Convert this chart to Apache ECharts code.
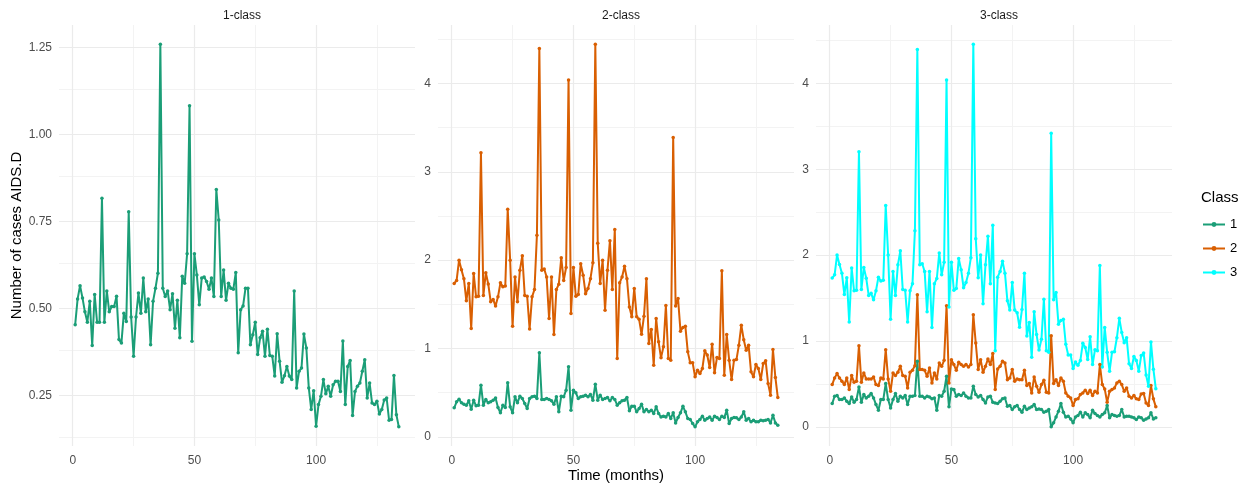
<!DOCTYPE html>
<html><head><meta charset="utf-8">
<script src="https://cdn.jsdelivr.net/npm/echarts@6/dist/echarts.min.js"></script>
<style>html,body{margin:0;padding:0;background:#fff}#c{width:1251px;height:486px}</style>
</head><body><div id="c"></div>
<script>
// ---- data ----
const months = [];
for (let i = 1; i <= 134; i++) months.push(i);

const panelTitles = ['1-class', '2-class', '3-class'];
const classNames = ['1', '2', '3'];
const xTitle = 'Time (months)';
const yTitle = 'Number of cases AIDS.D';
const xTicks = [0, 50, 100];
const xMinor = [25, 75, 125];
const yTicks1 = [0.25, 0.5, 0.75, 1.0, 1.25];
const yMinor1 = [0.125, 0.375, 0.625, 0.875, 1.125];
const yTicks23 = [0, 1, 2, 3, 4];
const yMinor23 = [0.5, 1.5, 2.5, 3.5, 4.5];

// 1-class model
const p1c1 = [0.453,0.527,0.565,0.53,0.49,0.46,0.52,0.393,0.54,0.46,
0.46,0.817,0.46,0.55,0.49,0.505,0.505,0.535,0.41,0.40,
0.486,0.462,0.778,0.475,0.362,0.475,0.544,0.486,0.587,0.49,
0.527,0.395,0.52,0.558,0.601,1.26,0.558,0.534,0.55,0.496,
0.542,0.443,0.523,0.415,0.592,0.572,0.657,1.083,0.405,0.657,
0.596,0.51,0.587,0.59,0.577,0.555,0.587,0.534,0.842,0.754,
0.534,0.61,0.523,0.572,0.558,0.555,0.603,0.372,0.496,0.507,
0.558,0.558,0.395,0.424,0.46,0.367,0.415,0.434,0.362,0.44,
0.364,0.362,0.305,0.427,0.348,0.287,0.306,0.333,0.305,0.295,
0.55,0.271,0.319,0.328,0.426,0.386,0.271,0.209,0.263,0.161,
0.223,0.247,0.295,0.254,0.276,0.247,0.28,0.29,0.29,0.261,
0.406,0.223,0.333,0.35,0.192,0.261,0.276,0.285,0.319,0.352,
0.242,0.285,0.228,0.223,0.233,0.196,0.209,0.236,0.242,0.178,
0.18,0.307,0.194,0.159];

// 2-class model
const p2c1 = [0.328,0.396,0.426,0.385,0.37,0.358,0.408,0.313,0.415,0.351,
0.358,0.585,0.358,0.423,0.385,0.396,0.415,0.44,0.332,0.272,
0.358,0.332,0.611,0.34,0.272,0.453,0.385,0.46,0.434,0.377,
0.32,0.434,0.453,0.46,0.434,0.951,0.423,0.423,0.434,0.423,
0.408,0.37,0.453,0.283,0.46,0.453,0.528,0.792,0.302,0.528,
0.498,0.434,0.453,0.46,0.472,0.453,0.479,0.415,0.596,0.415,
0.472,0.423,0.434,0.445,0.408,0.445,0.423,0.358,0.385,0.408,
0.415,0.445,0.294,0.347,0.347,0.283,0.32,0.37,0.283,0.309,
0.283,0.302,0.264,0.34,0.264,0.226,0.234,0.226,0.264,0.208,
0.272,0.158,0.219,0.272,0.347,0.283,0.208,0.196,0.151,0.113,
0.17,0.196,0.234,0.189,0.208,0.226,0.189,0.234,0.219,0.196,
0.234,0.219,0.302,0.151,0.208,0.219,0.215,0.196,0.226,0.283,
0.189,0.208,0.17,0.189,0.17,0.17,0.189,0.181,0.189,0.196,
0.158,0.245,0.158,0.132];

const p2c2 = [1.736,1.77,2.0,1.89,1.79,1.54,1.736,1.226,1.85,1.585,
1.59,3.215,1.60,1.857,1.73,1.53,1.555,1.48,1.585,1.743,
1.70,1.706,2.577,2.0,1.253,1.81,1.53,1.887,2.05,1.60,
1.59,1.222,1.585,1.668,2.283,4.396,1.887,1.90,1.81,1.34,
1.81,1.158,1.668,1.728,2.026,1.77,1.917,4.038,1.396,1.917,
1.59,1.61,1.96,1.83,1.62,1.68,1.79,1.97,4.445,2.19,
1.736,2.0,1.434,1.887,2.22,1.668,2.347,0.887,1.743,1.81,
1.93,1.79,1.47,1.36,1.68,1.36,1.33,1.16,1.366,1.79,
1.057,1.215,0.81,1.34,1.075,0.894,1.019,1.487,0.887,0.868,
3.389,1.48,1.566,1.196,1.238,1.253,0.962,0.838,0.838,0.68,
0.755,0.717,0.774,0.974,0.925,0.785,1.049,0.725,0.898,0.887,
1.879,0.698,1.158,0.868,0.649,0.868,0.875,1.038,1.264,1.10,
0.98,1.038,0.736,0.68,0.819,0.774,0.649,0.83,0.86,0.604,
0.472,0.989,0.672,0.445];

// 3-class model
const p3c1 = [0.271,0.357,0.364,0.318,0.318,0.337,0.298,0.271,0.349,0.287,
0.318,0.465,0.287,0.376,0.337,0.357,0.388,0.337,0.26,0.194,
0.318,0.318,0.504,0.318,0.221,0.318,0.388,0.298,0.357,0.337,
0.364,0.26,0.357,0.357,0.364,0.764,0.357,0.357,0.337,0.357,
0.349,0.326,0.337,0.194,0.364,0.357,0.415,0.589,0.233,0.442,
0.434,0.357,0.376,0.364,0.395,0.357,0.337,0.337,0.473,0.376,
0.349,0.364,0.318,0.279,0.349,0.357,0.287,0.279,0.271,0.298,
0.326,0.337,0.24,0.248,0.202,0.233,0.248,0.202,0.171,0.24,
0.202,0.221,0.233,0.26,0.202,0.209,0.202,0.171,0.182,0.202,
0.0,0.047,0.116,0.182,0.271,0.171,0.116,0.124,0.093,0.047,
0.116,0.132,0.171,0.116,0.163,0.143,0.105,0.194,0.155,0.132,
0.116,0.143,0.163,0.248,0.105,0.143,0.132,0.124,0.132,0.202,
0.116,0.124,0.124,0.116,0.105,0.085,0.116,0.105,0.078,0.093,
0.105,0.163,0.093,0.105];

const p3c2 = [0.492,0.57,0.62,0.57,0.531,0.492,0.57,0.434,0.597,0.519,
0.531,0.946,0.519,0.628,0.558,0.558,0.558,0.581,0.492,0.481,
0.57,0.558,0.899,0.558,0.415,0.628,0.597,0.636,0.705,0.597,
0.589,0.453,0.636,0.659,0.713,1.539,0.667,0.667,0.659,0.589,
0.686,0.512,0.628,0.558,0.744,0.705,0.775,1.411,0.512,0.783,
0.725,0.659,0.752,0.725,0.705,0.725,0.698,0.725,1.306,0.977,
0.667,0.783,0.636,0.705,0.791,0.725,0.853,0.434,0.674,0.705,
0.764,0.744,0.55,0.57,0.667,0.531,0.558,0.55,0.55,0.659,
0.481,0.504,0.395,0.581,0.473,0.403,0.492,0.543,0.403,0.395,
1.062,0.504,0.55,0.481,0.57,0.531,0.395,0.357,0.337,0.248,
0.318,0.326,0.376,0.395,0.426,0.388,0.426,0.364,0.415,0.395,
0.725,0.492,0.442,0.287,0.415,0.434,0.453,0.512,0.531,0.492,
0.415,0.453,0.357,0.337,0.364,0.326,0.318,0.384,0.388,0.279,
0.248,0.481,0.326,0.233];

const p3c3 = [1.733,1.77,2.0,1.89,1.79,1.54,1.736,1.22,1.85,1.585,
1.59,3.205,1.60,1.857,1.73,1.53,1.555,1.48,1.585,1.743,
1.70,1.706,2.577,2.0,1.253,1.81,1.53,1.887,2.05,1.60,
1.59,1.222,1.585,1.668,2.283,4.395,1.887,1.90,1.81,1.34,
1.81,1.158,1.668,1.728,2.026,1.77,1.917,4.039,1.396,1.917,
1.59,1.61,1.96,1.83,1.62,1.68,1.79,1.97,4.457,2.19,
1.736,2.0,1.434,1.887,2.22,1.668,2.347,0.887,1.743,1.81,
1.93,1.79,1.47,1.36,1.68,1.36,1.33,1.16,1.366,1.79,
1.057,1.215,0.81,1.34,1.075,0.894,1.019,1.487,0.887,0.868,
3.42,1.48,1.566,1.196,1.238,1.253,0.962,0.838,0.838,0.68,
0.755,0.717,0.774,0.974,0.925,0.785,1.049,0.725,0.898,0.887,
1.879,0.698,1.158,0.868,0.649,0.868,0.875,1.038,1.264,1.10,
0.98,1.038,0.736,0.68,0.819,0.774,0.649,0.83,0.86,0.604,
0.472,0.989,0.672,0.445];

const panels = [
  { title: panelTitles[0], series: [[classNames[0], p1c1]], ticks: yTicks1, minor: yMinor1, fmt: v => v.toFixed(2) },
  { title: panelTitles[1], series: [[classNames[0], p2c1], [classNames[1], p2c2]], ticks: yTicks23, minor: yMinor23, fmt: v => String(v) },
  { title: panelTitles[2], series: [[classNames[0], p3c1], [classNames[1], p3c2], [classNames[2], p3c3]], ticks: yTicks23, minor: yMinor23, fmt: v => String(v) }
];

// ---- styling ----
const colors = { '1': '#1B9E77', '2': '#D95F02', '3': '#00FFFF' };
const FONT = 'Liberation Sans, Arial, sans-serif';
const gridLefts = [59, 438, 816];
const gridTop = 25, gridW = 356, gridH = 421;

function expandRange(arrs) {
  let mn = Infinity, mx = -Infinity;
  arrs.forEach(a => a.forEach(v => { if (v < mn) mn = v; if (v > mx) mx = v; }));
  const pad = (mx - mn) * 0.05;
  return [mn - pad, mx + pad];
}
const xr = expandRange([months]);

const grids = [], xAxes = [], yAxes = [], series = [], titles = [];
panels.forEach((p, i) => {
  const yr = expandRange(p.series.map(s => s[1]));
  grids.push({ left: gridLefts[i], top: gridTop, width: gridW, height: gridH, containLabel: false, outerBoundsMode: 'none' });
  xAxes.push({
    type: 'value', gridIndex: i, min: xr[0], max: xr[1],
    axisLine: { show: false }, axisTick: { show: false }, splitLine: { show: false },
    axisLabel: { customValues: xTicks, color: '#4D4D4D', fontSize: 12, fontFamily: FONT, margin: 9 }
  });
  yAxes.push({
    type: 'value', gridIndex: i, min: yr[0], max: yr[1],
    axisLine: { show: false }, axisTick: { show: false }, splitLine: { show: false },
    axisLabel: { customValues: p.ticks, formatter: p.fmt, color: '#4D4D4D', fontSize: 12, fontFamily: FONT, margin: 7 }
  });
  const within = (vals, r) => vals.filter(v => v >= r[0] && v <= r[1]);
  const ml = [];
  within(p.minor, yr).forEach(v => ml.push({ yAxis: v, lineStyle: { color: '#F3F3F3', width: 1 } }));
  within(xMinor, xr).forEach(v => ml.push({ xAxis: v, lineStyle: { color: '#F3F3F3', width: 1 } }));
  within(p.ticks, yr).forEach(v => ml.push({ yAxis: v, lineStyle: { color: '#EBEBEB', width: 1.2 } }));
  within(xTicks, xr).forEach(v => ml.push({ xAxis: v, lineStyle: { color: '#EBEBEB', width: 1.2 } }));
  series.push({
    type: 'line', xAxisIndex: i, yAxisIndex: i, data: [], z: 0, silent: true,
    markLine: { silent: true, z: 0, symbol: ['none', 'none'], label: { show: false },
      lineStyle: { type: 'solid' }, animation: false, data: ml }
  });
  p.series.forEach(([name, vals]) => {
    series.push({
      type: 'line', name: name, xAxisIndex: i, yAxisIndex: i, z: 10,
      data: months.map((m, k) => [m, vals[k]]),
      symbol: 'circle', symbolSize: 3.5, showSymbol: true,
      itemStyle: { color: colors[name] },
      lineStyle: { color: colors[name], width: 2 },
      emphasis: { disabled: true }
    });
  });
  titles.push({
    text: p.title, left: gridLefts[i] + gridW / 2, top: 5, textAlign: 'center',
    textStyle: { fontSize: 12, fontWeight: 'normal', color: '#1A1A1A', fontFamily: FONT }
  });
});
titles.push({ text: 'Class', left: 1196, top: 185, textStyle: { fontSize: 15, fontWeight: 'normal', color: '#000', fontFamily: FONT } });

const chart = echarts.init(document.getElementById('c'), null, { renderer: 'canvas' });
chart.setOption({
  animation: false,
  backgroundColor: '#fff',
  title: titles,
  grid: grids, xAxis: xAxes, yAxis: yAxes, series: series,
  legend: {
    data: classNames, orient: 'vertical', left: 1197, top: 213,
    itemWidth: 22, itemHeight: 6, itemGap: 11,
    textStyle: { fontSize: 13, color: '#000', fontFamily: FONT }
  },
  graphic: [
    { type: 'text', silent: true, x: gridLefts[1] + gridW / 2, y: 476,
      style: { text: xTitle, fill: '#000', font: '15px ' + FONT, align: 'center', verticalAlign: 'middle' } },
    { type: 'text', silent: true, rotation: Math.PI / 2, x: 17, y: gridTop + gridH / 2,
      style: { text: yTitle, fill: '#000', font: '15px ' + FONT, align: 'center', verticalAlign: 'middle' } }
  ]
});
</script></body></html>
